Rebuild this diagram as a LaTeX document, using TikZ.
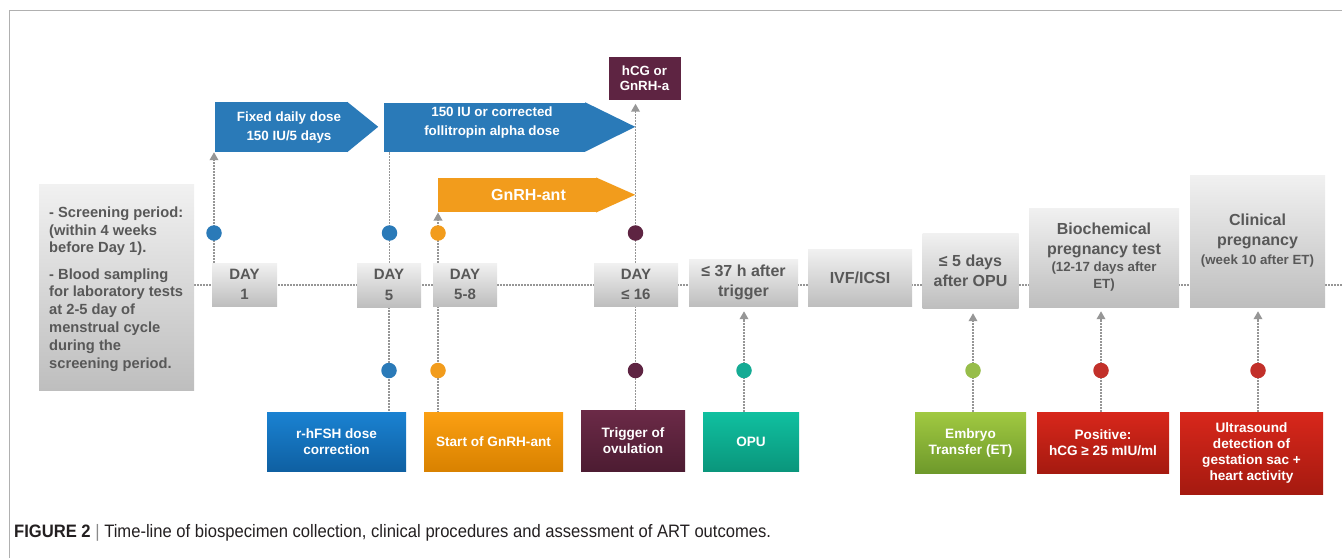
\documentclass[tikz,border=0pt]{standalone}
\usepackage{fontspec}
\setmainfont{Liberation Sans}
\usetikzlibrary{arrows.meta}
\pgfdeclarelayer{background}
\pgfsetlayers{background,main}

\newcommand\sz[2]{\fontsize{#1}{#2}\selectfont}

\definecolor{framegray}{HTML}{B0B0B0}
\definecolor{dotgray}{HTML}{969696}
\definecolor{txtgray}{HTML}{585858}
\definecolor{gbtop}{HTML}{F1F1F1}
\definecolor{gbbot}{HTML}{BEBEBE}
\definecolor{blueA}{HTML}{2A7AB8}
\definecolor{orangeA}{HTML}{F29C1C}
\definecolor{maroonA}{HTML}{5E2442}
\definecolor{tealA}{HTML}{15AB94}
\definecolor{greenA}{HTML}{97BD4A}
\definecolor{redA}{HTML}{C2302A}
\definecolor{capgray}{HTML}{231F20}
\definecolor{barcol}{HTML}{8A8A8A}
% event box gradients
\definecolor{bluT}{HTML}{1A82D2}\definecolor{bluB}{HTML}{0F60A2}
\definecolor{orgT}{HTML}{FB9F12}\definecolor{orgB}{HTML}{D98200}
\definecolor{marT}{HTML}{6B2A47}\definecolor{marB}{HTML}{4D1C32}
\definecolor{tlT}{HTML}{10C0A0}\definecolor{tlB}{HTML}{0A967C}
\definecolor{grnT}{HTML}{A1C941}\definecolor{grnB}{HTML}{6E992B}
\definecolor{redT}{HTML}{D8271B}\definecolor{redB}{HTML}{A51A10}

\begin{document}
\begin{tikzpicture}[x=1pt,y=-1pt,
  graybox/.style={rectangle, inner sep=0pt, top color=gbtop, bottom color=gbbot,
    text=txtgray, align=center, font=\bfseries\sz{16}{20}},
  daybox/.style={graybox, minimum height=43, font=\bfseries\sz{15}{20.4}},
  colbox/.style={rectangle, inner sep=0pt, text=white, align=center,
    font=\bfseries\sz{13.6}{16}},
  evbox/.style 2 args={colbox, top color=#1, bottom color=#2},
  abody/.style={rectangle, inner sep=0pt},
  atext/.style={inner sep=0pt, text=white, align=center, font=\bfseries\sz{13.4}{19}},
  dotline/.style={draw=dotgray, line width=1.9pt, dash pattern=on 1.5pt off 1.5pt},
  uptip/.style={-{Triangle[length=8pt,width=8.5pt]}},
  dot/.style={circle, inner sep=0pt, minimum size=15.5pt, fill=#1}]

\useasboundingbox (0,0) rectangle (1342,558);

% figure frame (top and left rules)
\draw[framegray, line width=1.3pt] (9.3,558) -- (9.3,10.7) -- (1342,10.7);

% ---- screening period ----
\node[graybox, minimum width=155, minimum height=206] (scr) at (116.5,287) {};
\node[anchor=north west, inner sep=0pt, text=txtgray, align=left,
      font=\bfseries\sz{14.7}{17.8}] (scrt) at (49,206.5)
  {- Screening period:\\(within 4 weeks\\before Day 1).\\[8.4pt]
   - Blood sampling\\for laboratory tests\\at 2-5 day of\\menstrual cycle\\during the\\screening period.};

% ---- timeline boxes ----
\node[daybox, minimum width=65] (d1)  at (244.5,284.5) {DAY\\1};
\node[daybox, minimum width=64, minimum height=44] (d5)  at (389,285) {DAY\\5};
\node[daybox, minimum width=64] (d58) at (465,284.5) {DAY\\5-8};
\node[daybox, minimum width=84] (d16) at (636,284.5) {DAY\\≤ 16};
\node[graybox, minimum width=109, minimum height=47] (t37) at (743.5,282.5) {≤ 37 h after\\trigger};
\node[graybox, minimum width=104, minimum height=57] (ivf) at (860,277.5) {IVF/ICSI};
\node[graybox, minimum width=96, minimum height=75] (d5opu) at (970.5,270.5) {≤ 5 days\\after OPU};
\node[graybox, minimum width=150, minimum height=99] (bio) at (1104,257.5)
  {Biochemical\\pregnancy test\\[-3pt]{\sz{13.3}{17}(12-17 days after}\\[-3pt]{\sz{13.3}{17}ET)}};
\node[graybox, minimum width=135, minimum height=132] (clin) at (1257.5,241)
  {Clinical\\pregnancy\\[-1pt]{\sz{13.3}{17}(week 10 after ET)}};

% ---- treatment arrows ----
\node[abody, fill=blueA, minimum width=132, minimum height=50] (fix) at (281,127) {};
\fill[blueA] (fix.north east) -- ++(31,25) -- (fix.south east) -- cycle;
\node[atext] (fixt) at (289,127.8) {Fixed daily dose\\150 IU/5 days};

\node[abody, fill=blueA, minimum width=201, minimum height=49] (cor) at (484.5,127) {};
\fill[blueA] (cor.north east) -- ++(50,24.5) -- (cor.south east) -- cycle;
\node[atext] (cort) at (492,123) {150 IU or corrected\\follitropin alpha dose};

\node[abody, fill=orangeA, minimum width=158, minimum height=34.6] (ant) at (517,195) {};
\fill[orangeA] (ant.north east) -- ++(39,17.3) -- (ant.south east) -- cycle;
\node[inner sep=0pt, text=white, font=\bfseries\sz{16}{19}] (antt) at (528.5,195) {GnRH-ant};

\node[colbox, fill=maroonA, minimum width=72, minimum height=43, font=\bfseries\sz{13.3}{15.3}]
  (hcg) at (644.5,78) {hCG or\\GnRH-a};

% ---- event boxes ----
\node[evbox={bluT}{bluB}, minimum width=139, minimum height=59] (fsh) at (336.5,441.5) {r-hFSH dose\\correction};
\node[evbox={orgT}{orgB}, minimum width=139, minimum height=59] (sta) at (493.5,441.5) {Start of GnRH-ant};
\node[evbox={marT}{marB}, minimum width=104, minimum height=61] (trg) at (633,440.5) {Trigger of\\ovulation};
\node[evbox={tlT}{tlB},   minimum width=96,  minimum height=59] (opu) at (751,441.5) {OPU};
\node[evbox={grnT}{grnB}, minimum width=111, minimum height=61] (et)  at (970.5,442.5) {Embryo\\Transfer (ET)};
\node[evbox={redT}{redB}, minimum width=132, minimum height=61] (pos) at (1103,442.5) {Positive:\\hCG ≥ 25 mIU/ml};
\node[evbox={redT}{redB}, minimum width=143, minimum height=82] (us)  at (1251.5,453) {Ultrasound\\detection of\\gestation sac +\\heart activity};

% ---- markers ----
\node[dot=blueA]   (c1) at (214,233) {};
\node[dot=blueA]   (c2) at (389.5,233) {};
\node[dot=orangeA] (c3) at (438,233) {};
\node[dot=maroonA] (c4) at (635.5,233) {};
\node[dot=blueA]   (b1) at (389,370.5) {};
\node[dot=orangeA] (b2) at (438,370.5) {};
\node[dot=maroonA] (b3) at (635.5,370.5) {};
\node[dot=tealA]   (b4) at (744,370.5) {};
\node[dot=greenA]  (b5) at (973,370.5) {};
\node[dot=redA]    (b6) at (1101,370.5) {};
\node[dot=redA]    (b7) at (1258,370.5) {};

% ---- connectors (behind everything) ----
\begin{pgfonlayer}{background}
  \coordinate (tlend) at (1342,285);
  \draw[dotline] (scr.east |- tlend) -- (tlend);
  % upward: days to treatments
  \draw[dotline, uptip] (d1.north -| c1) -- (c1 |- fix.south);
  \draw[dotline] (d5.north -| c2) -- (c2 |- cor.south);
  \draw[dotline, uptip] (d58.north -| c3) -- (c3 |- ant.south);
  \draw[dotline, uptip, shorten >=4pt] (d16.north -| c4) -- (c4 |- hcg.south);
  % downward: days to events
  \draw[dotline] (d5.south -| b1) -- (b1 |- fsh.north);
  \draw[dotline] (d58.south -| b2) -- (b2 |- sta.north);
  \draw[dotline] (d16.south -| b3) -- (b3 |- trg.north);
  % upward: events to outcomes
  \draw[dotline, uptip, shorten >=5pt] (opu.north -| b4) -- (b4 |- t37.south);
  \draw[dotline, uptip, shorten >=5pt] (et.north -| b5) -- (b5 |- d5opu.south);
  \draw[dotline, uptip, shorten >=4pt] (pos.north -| b6) -- (b6 |- bio.south);
  \draw[dotline, uptip, shorten >=4pt] (us.north -| b7) -- (b7 |- clin.south);
\end{pgfonlayer}

% ---- caption ----
\node[anchor=base west, inner sep=0pt, text=capgray] (cap) at (14,537)
  {\scalebox{0.922}[1]{\sz{18}{21}\textbf{FIGURE 2}\hspace{5pt}{\color{barcol}|}\hspace{5pt}Time-line of biospecimen collection, clinical procedures and assessment of ART outcomes.}};
\end{tikzpicture}
\end{document}
